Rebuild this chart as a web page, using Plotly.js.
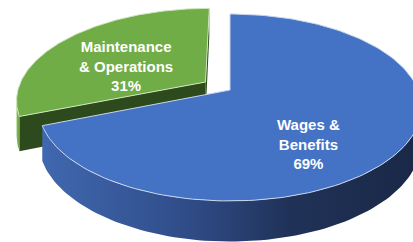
<!DOCTYPE html>
<html><head><meta charset="utf-8">
<script src="https://cdn.plot.ly/plotly-3.0.1.min.js"></script>
<style>html,body{margin:0;padding:0;background:#fff;overflow:hidden}#chart{width:413px;height:242px}</style>
</head><body><div id="chart"></div>
<script>
// ---- data ----
const labels = ['Wages & Benefits', 'Maintenance & Operations'];
const labelLines = [['Wages &', 'Benefits'], ['Maintenance', '& Operations']];
const values = [69, 31];

// ---- style ----
const topColors = ['#4472C4', '#70AD47'];
const edgeColors = ['#c9d6ee', '#cfe5bf'];
const wallScales = [
  [[0, '#4068b0'], [0.4, '#2f4b86'], [0.65, '#203258'], [1, '#1a2846']],
  [[0, '#86bf5c'], [1, '#6a9f44']]
];
const cutColors = ['#25385f', '#2c4a1b'];
const pulls = [0, 0.16];
const labelPos = [[308, 144], [126, 66]];
const G = {cx: 230, cy: 90, A: 188, B: 90.2, k: 0.187, D: 33, start: 90};

function proj(u, v, z) {
  const w = 1 + G.k * v;
  return [G.cx + G.A * u / w, G.cy - G.B * v / w + z * G.D / w];
}
const rad = d => d * Math.PI / 180;
const total = values.reduce((a, b) => a + b, 0);

// slice angles (clockwise from 12 o'clock)
const slices = [];
let a = G.start;
values.forEach((val, i) => {
  const sweep = val / total * 360;
  const a0 = a, a1 = a - sweep;
  const mid = (a0 + a1) / 2;
  const du = pulls[i] * Math.cos(rad(mid)), dv = pulls[i] * Math.sin(rad(mid));
  slices.push({i, a0, a1, mid, du, dv});
  a = a1;
});

function poly(pts, extra) {
  return Object.assign({
    type: 'scatter', mode: 'lines', fill: 'toself',
    x: pts.map(p => p[0]), y: pts.map(p => p[1]),
    hoverinfo: 'skip', showlegend: false
  }, extra);
}

const traces = [];
const camV = -1 / G.k;
const order = slices.slice().sort((p, q) => Math.sin(rad(q.mid)) - Math.sin(rad(p.mid)));
order.forEach(s => {
  const i = s.i;
  const N = 160;
  const angs = [];
  for (let j = 0; j <= N; j++) angs.push(s.a0 + (s.a1 - s.a0) * j / N);
  // cut faces
  [[s.a0, s.a0 + 90], [s.a1, s.a1 - 90]].forEach(([ang, nAng]) => {
    const nx = Math.cos(rad(nAng)), ny = Math.sin(rad(nAng));
    const dot = nx * (0 - s.du) + ny * (camV - s.dv);
    if (dot > 0) {
      const ru = s.du + Math.cos(rad(ang)), rv = s.dv + Math.sin(rad(ang));
      const pts = [proj(s.du, s.dv, 0), proj(ru, rv, 0), proj(ru, rv, 1), proj(s.du, s.dv, 1)];
      pts.push(pts[0]);
      traces.push(poly(pts, {fillcolor: cutColors[i], line: {width: 0, color: cutColors[i]}}));
    }
  });
  // outer wall
  const vis = angs.filter(t => {
    const c = Math.cos(rad(t)), sn = Math.sin(rad(t));
    return sn * (1 / G.k + s.dv) + s.du * c < -1;
  });
  if (vis.length > 1) {
    const topPts = vis.map(t => proj(s.du + Math.cos(rad(t)), s.dv + Math.sin(rad(t)), 0));
    const botPts = vis.slice().reverse().map(t => proj(s.du + Math.cos(rad(t)), s.dv + Math.sin(rad(t)), 1));
    const pts = topPts.concat(botPts);
    pts.push(pts[0]);
    traces.push(poly(pts, {fillcolor: wallScales[i][0][1], fillgradient: {type: 'horizontal', colorscale: wallScales[i]}, line: {width: 0, color: wallScales[i][0][1]}}));
  }
  // top face
  const pts = [proj(s.du, s.dv, 0)].concat(angs.map(t => proj(s.du + Math.cos(rad(t)), s.dv + Math.sin(rad(t)), 0)));
  pts.push(pts[0]);
  traces.push(poly(pts, {fillcolor: topColors[i], line: {width: 1, color: edgeColors[i]}}));
});

const annotations = values.map((val, i) => ({
  x: labelPos[i][0], y: labelPos[i][1], xref: 'x', yref: 'y',
  text: '<b>' + labelLines[i].join('<br>') + '<br>' + Math.round(val / total * 100) + '%</b>',
  showarrow: false, align: 'center', xanchor: 'center', yanchor: 'middle',
  font: {family: 'Liberation Sans, Arial, sans-serif', size: 15, color: '#ffffff'}
}));

const layout = {
  width: 413, height: 242,
  margin: {l: 0, r: 0, t: 0, b: 0},
  paper_bgcolor: '#ffffff', plot_bgcolor: '#ffffff',
  xaxis: {range: [0, 413], visible: false, fixedrange: true},
  yaxis: {range: [242, 0], visible: false, fixedrange: true},
  showlegend: false,
  annotations
};
Plotly.newPlot('chart', traces, layout, {staticPlot: true, displayModeBar: false});
</script>
</body></html>
